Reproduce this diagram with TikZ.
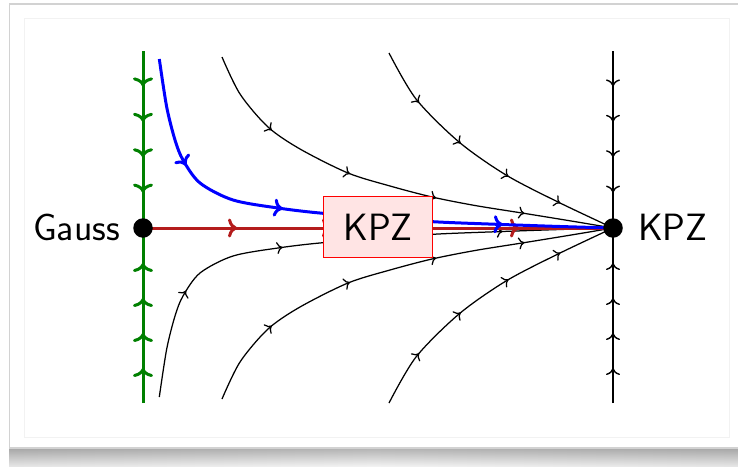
\documentclass[tikz,border=0pt]{standalone}
\usetikzlibrary{decorations.markings,arrows.meta}
\definecolor{flowgreen}{RGB}{0,128,0}
\definecolor{flowred}{RGB}{180,28,28}
\definecolor{boxfill}{RGB}{255,228,228}
\begin{document}
\begin{tikzpicture}[x=1pt,y=-1pt,
  lbl/.style={font=\sffamily\fontsize{38}{42}\selectfont, inner sep=0pt},
  flow/.style={postaction={decorate},decoration={markings,
     mark=at position 0.2 with {\arrow{#1}},
     mark=at position 0.4 with {\arrow{#1}},
     mark=at position 0.6 with {\arrow{#1}},
     mark=at position 0.8 with {\arrow{#1}}}},
  thinflow/.style={black, line width=1.25pt, flow={Computer Modern Rightarrow[length=6pt,width=12pt]}},
  axisflow/.style={black, line width=1.4pt, flow={Computer Modern Rightarrow[length=7pt,width=14pt]}},
  greenflow/.style={flowgreen, line width=3pt, flow={Computer Modern Rightarrow[length=9pt,width=20pt]}},
  blueflow/.style={blue, line width=3pt, flow={Computer Modern Rightarrow[length=9pt,width=18pt]}},
  redflow/.style={flowred, line width=3pt, flow={Computer Modern Rightarrow[length=9pt,width=19pt]}},
  dot/.style={circle, fill=black, inner sep=0pt, minimum size=19.5pt},
  kpzbox/.style={draw=red, line width=1.2pt, fill=boxfill, minimum width=109pt,
     minimum height=60.5pt, inner sep=0pt, font=\sffamily\fontsize{38}{42}\selectfont}
]
% frame
\useasboundingbox (0,0) rectangle (738,466);
\fill[white] (0,0) rectangle (738,466);
\shade[top color=black!60, bottom color=gray!20] (9,448) rectangle (738,466);
\shade[left color=black!10, right color=black!10, middle color=white, opacity=0.5] (9,448) rectangle (738,466);
\draw[gray!35, fill=white, line width=1.2pt] (9.5,4) rectangle (745,448);
\draw[gray!10, line width=0.8pt] (24.5,18) rectangle (729,437);

% fixed points
\coordinate (G) at (143,228);
\coordinate (K) at (613,228);
\coordinate (Gtop) at (143,51);
\coordinate (Gbot) at (143,403);
\coordinate (Ktop) at (613,51);
\coordinate (Kbot) at (613,403);

% flow lines
\draw[thinflow] plot[smooth] coordinates {(222,57) (240,94) (268,127) (300,149) (348,173) (390,186) (432,197) (475,205.5) (522,213) (570,220.8) (K)};
\draw[thinflow] plot[smooth] coordinates {(222,399) (240,362) (268,329) (300,307) (348,283) (390,270) (432,259) (475,250.5) (522,243) (570,235.2) (K)};
\draw[thinflow] plot[smooth] coordinates {(389,53) (416,99) (459,142) (506,175) (558,202) (K)};
\draw[thinflow] plot[smooth] coordinates {(389,403) (416,357) (459,314) (506,281) (558,254) (K)};
\draw[thinflow] plot[smooth] coordinates {(159.3,397) (166.7,349) (175,316) (183,296) (200,273) (233,256) (280,247.7) (323,242.7) (380,238.8) (433,234.3) (496.7,231.7) (560,229.5) (K)};
\draw[axisflow] (Ktop) -- (K);
\draw[axisflow] (Kbot) -- (K);
\draw[greenflow] (Gtop) -- (G);
\draw[greenflow] (Gbot) -- (G);
\draw[redflow] (G) -- (K);
\draw[blueflow] plot[smooth] coordinates {(159.3,59) (166.7,107) (175,140) (183,160) (200,183) (233,200) (280,208.3) (323,213.3) (380,217.2) (433,221.7) (496.7,224.3) (560,226.5) (K)};

% box and dots
\node[kpzbox] (box) at (378,227) {KPZ};
\node[dot] (gaussdot) at (G) {};
\node[dot] (kpzdot) at (K) {};
\node[lbl, anchor=base east] (gausslbl) at (120,240) {Gauss};
\node[lbl, anchor=base west] (kpzlbl) at (638,240) {KPZ};
\end{tikzpicture}
\end{document}
